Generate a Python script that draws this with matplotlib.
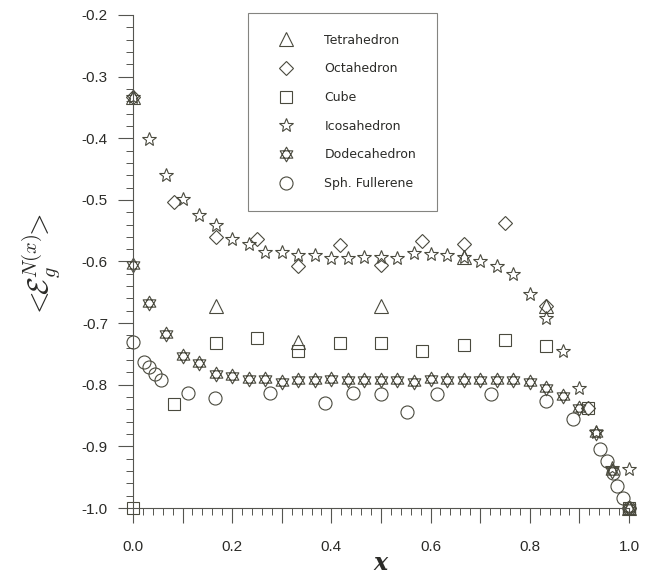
import numpy as np
import matplotlib
matplotlib.use('Agg')
import matplotlib.pyplot as plt
from matplotlib.path import Path
from matplotlib.ticker import MultipleLocator, FuncFormatter

# Energía media por sitio vs x para cada poliedro
x_tetra = [0.0, 0.1667, 0.3333, 0.5, 0.6667, 0.8333, 1.0]
e_tetra = [-0.333, -0.673, -0.730, -0.673, -0.593, -0.673, -1.0]

x_octa = [0.0, 0.0833, 0.1667, 0.25, 0.3333, 0.4167, 0.5,
          0.5833, 0.6667, 0.75, 0.8333, 0.9167, 1.0]
e_octa = [-0.333, -0.504, -0.561, -0.563, -0.608, -0.574, -0.605,
          -0.567, -0.572, -0.538, -0.672, -0.837, -1.0]

x_cubo = [0.0, 0.0833, 0.1667, 0.25, 0.3333, 0.4167, 0.5,
          0.5833, 0.6667, 0.75, 0.8333, 0.9167, 1.0]
e_cubo = [-1.0, -0.832, -0.733, -0.724, -0.745, -0.733, -0.733,
          -0.745, -0.735, -0.727, -0.737, -0.837, -1.0]

x_30 = [0.0, 0.0333, 0.0667, 0.1, 0.1333, 0.1667, 0.2, 0.2333, 0.2667, 0.3,
        0.3333, 0.3667, 0.4, 0.4333, 0.4667, 0.5, 0.5333, 0.5667, 0.6, 0.6333,
        0.6667, 0.7, 0.7333, 0.7667, 0.8, 0.8333, 0.8667, 0.9, 0.9333, 0.9667,
        1.0]
e_icosa = [-0.333, -0.402, -0.459, -0.498, -0.524, -0.541, -0.563, -0.571,
           -0.584, -0.584, -0.590, -0.590, -0.595, -0.595, -0.592, -0.592,
           -0.595, -0.586, -0.588, -0.590, -0.593, -0.600, -0.607, -0.621,
           -0.652, -0.691, -0.746, -0.806, -0.876, -0.935, -0.937]
e_dodeca = [-0.605, -0.668, -0.717, -0.753, -0.764, -0.782, -0.785, -0.790,
            -0.790, -0.795, -0.793, -0.793, -0.791, -0.793, -0.793, -0.793,
            -0.793, -0.795, -0.790, -0.793, -0.793, -0.793, -0.793, -0.793,
            -0.795, -0.805, -0.818, -0.837, -0.878, -0.940, -1.0]

x_fuller = [0.0, 0.023, 0.033, 0.045, 0.057, 0.110, 0.166, 0.277, 0.388, 0.443,
            0.500, 0.553, 0.612, 0.721, 0.832, 0.888, 0.941, 0.955, 0.967,
            0.975, 0.987, 1.0]
e_fuller = [-0.730, -0.763, -0.772, -0.782, -0.792, -0.813, -0.821, -0.813,
            -0.829, -0.813, -0.815, -0.844, -0.815, -0.815, -0.826, -0.855,
            -0.904, -0.924, -0.943, -0.964, -0.984, -1.0]

etiquetas = ["Tetrahedron", "Octahedron", "Cube", "Icosahedron",
             "Dodecahedron", "Sph. Fullerene"]

color_marca = '#4a4a3e'
color_texto = '#2b2b28'


def estrella_david():
    """Hexagrama como dos triángulos superpuestos."""
    verts = []
    codes = []
    for angulos in ([90, 210, 330], [270, 30, 150]):
        a = np.deg2rad(angulos)
        pts = np.column_stack([np.cos(a), np.sin(a)])
        verts += list(pts) + [pts[0]]
        codes += [Path.MOVETO, Path.LINETO, Path.LINETO, Path.CLOSEPOLY]
    return Path(verts, codes)


def main():
    plt.rcParams['mathtext.fontset'] = 'cm'

    fig = plt.figure(figsize=(6.56, 5.78), dpi=100)
    ax = fig.add_axes([0.2027, 0.1211, 0.7561, 0.853])

    series = [
        (x_tetra, e_tetra, '^', 9.5),
        (x_octa, e_octa, 'D', 7.6),
        (x_cubo, e_cubo, 's', 9.0),
        (x_30, e_icosa, '*', 10.5),
        (x_30, e_dodeca, estrella_david(), 10.5),
        (x_fuller, e_fuller, 'o', 9.4),
    ]
    for (x, e, marca, tam), nombre in zip(series, etiquetas):
        ax.plot(x, e, linestyle='none', marker=marca, markersize=tam,
                markerfacecolor='none', markeredgecolor=color_marca,
                markeredgewidth=0.8, clip_on=False, label=nombre)

    ax.set_xlim(0.0, 1.0)
    ax.set_ylim(-1.0, -0.2)

    for lado in ('top', 'right'):
        ax.spines[lado].set_visible(False)
    for lado in ('left', 'bottom'):
        ax.spines[lado].set_color('#555550')
        ax.spines[lado].set_linewidth(0.8)

    ax.xaxis.set_major_locator(MultipleLocator(0.1))
    ax.xaxis.set_minor_locator(MultipleLocator(0.02))
    ax.xaxis.set_major_formatter(FuncFormatter(
        lambda v, p: f'{v:.1f}' if round(v * 10) % 2 == 0 else ''))
    ax.yaxis.set_major_locator(MultipleLocator(0.1))
    ax.yaxis.set_minor_locator(MultipleLocator(0.02))
    ax.yaxis.set_major_formatter(FuncFormatter(lambda v, p: f'{v:.1f}'))

    ax.tick_params(which='major', direction='out', length=11, width=0.8,
                   color='#555550', labelsize=11, labelcolor=color_texto)
    ax.tick_params(axis='x', which='major', pad=12)
    ax.tick_params(axis='y', which='major', pad=7)
    ax.tick_params(which='minor', direction='out', length=5, width=0.7,
                   color='#555550')
    for t in ax.get_xticklabels() + ax.get_yticklabels():
        t.set_fontfamily('Liberation Sans')

    ax.set_xlabel('x', fontsize=17, fontstyle='italic', fontweight='bold',
                  family='DejaVu Serif', color=color_texto,
                  verticalalignment='baseline')
    ax.xaxis.set_label_coords(0.5, -0.125)
    ax.set_ylabel(r'$<\!\!\mathcal{E}_g^{N(x)}\!\!>$', fontsize=21,
                  color=color_texto, verticalalignment='center')
    ax.yaxis.set_label_coords(-0.185, 0.49)

    leg = ax.legend(loc='upper left', bbox_to_anchor=(0.232, 1.005),
                    frameon=True, fancybox=False, edgecolor='#666660',
                    borderpad=1.7, labelspacing=1.25, handlelength=2.7,
                    handletextpad=1.7, borderaxespad=0.0,
                    prop={'family': 'DejaVu Sans', 'size': 9.0})
    leg.get_frame().set_linewidth(0.8)
    for t in leg.get_texts():
        t.set_color(color_texto)

    fig.savefig('out.png', dpi=100)


if __name__ == '__main__':
    main()
